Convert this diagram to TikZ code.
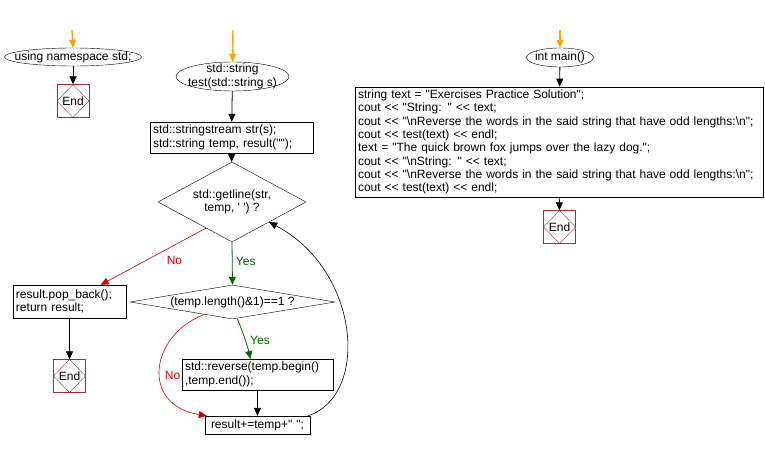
\documentclass[tikz,border=0pt]{standalone}
\usepackage{fontspec}
\setmainfont{Liberation Sans}[Ligatures=TeXOff]
\usetikzlibrary{shapes.geometric,arrows.meta,calc}
\definecolor{endred}{HTML}{A03030}
\definecolor{orangec}{HTML}{FFA500}
\definecolor{nored}{HTML}{CC0000}
\definecolor{yesgreen}{HTML}{006600}
\tikzset{
  every node/.style={font=\fontsize{12}{13.3}\selectfont},
  arr/.style={-{Triangle[length=8pt,width=7pt]}, line width=0.8pt},
  startarr/.style={arr, draw=orangec, line width=1.4pt},
  noarr/.style={arr, draw=nored, line width=0.6pt},
  yesarr/.style={arr, draw=yesgreen},
  ell/.style={draw, ellipse, inner sep=0pt},
  codebox/.style={draw, rectangle, inner sep=3pt, align=left},
  dia/.style={draw, diamond, inner sep=0pt},
  inlabel/.style={label={[align=center, inner sep=0pt]center:#1}},
  endbox/.style={draw=endred, rectangle, minimum width=32pt, minimum height=33pt, inner sep=0pt,
    path picture={\draw[endred] (path picture bounding box.north) -- (path picture bounding box.east) -- (path picture bounding box.south) -- (path picture bounding box.west) -- cycle;}},
  nolab/.style={text=nored},
  yeslab/.style={text=yesgreen},
}
\begin{document}
\begin{tikzpicture}[x=1pt,y=-1pt]
\useasboundingbox (0,0) rectangle (765,449);
% left
\coordinate (o1) at (72,30);
\node[ell, minimum width=137pt, minimum height=18pt, inlabel={using namespace std;}] (ns) at (73,57) {};
\node[endbox] (end1) at (73,101) {End};
\draw[startarr] (o1) -- (ns.north);
\draw[arr] (ns) -- (end1);
% middle
\coordinate (o2) at (233,30);
\node[ell, minimum width=113pt, minimum height=29pt, inlabel={std::string\\test(std::string s)}] (test) at (232.5,76.5) {};
\node[codebox, minimum width=163pt, minimum height=31pt, text width=157pt] (decl) at (231.5,137.5) {std::stringstream str(s);\\std::string temp, result("");};
\node[dia, minimum width=148pt, minimum height=80pt, aspect=1.85, inlabel={std::getline(str,\\temp, ' ') ?}] (d1) at (232,202) {};
\node[dia, minimum width=205pt, minimum height=34pt, aspect=6, inlabel={(temp.length()\&1)==1 ?}] (d2) at (232.5,302) {};
\node[codebox, minimum width=113pt, minimum height=33pt, text width=107pt] (pop) at (69.5,301.5) {result.pop\_back();\\return result;};
\node[endbox] (end2) at (69.5,376) {End};
\node[codebox, minimum width=151pt, minimum height=29pt, text width=145pt] (rev) at (257.5,374.5) {std::reverse(temp.begin()\\,temp.end());};
\node[codebox, minimum width=105pt, minimum height=18pt, text width=99pt, inner sep=3pt] (res) at (257.5,425) {\hspace{3pt}result+=temp+" ";};
\draw[startarr] (o2) -- (test.north);
\draw[arr] (test) -- (decl);
\draw[arr] (decl) -- (d1);
\draw[yesarr] (d1.south) -- node[yeslab, right, pos=0.45] {Yes} (d2.north);
\draw[noarr] ($(d1.south west)!0.3!(d1.south)$) -- node[nolab, below=7pt, pos=0.3] {No} ($(pop.north)!0.55!(pop.north east)$);
\draw[arr] (pop) -- (end2);
\draw[yesarr] ($(d2.south)+(5,0)$) .. controls (244,335) and (248,348) .. node[yeslab, right, pos=0.5, xshift=1pt] {Yes} ($(rev.north)+(-7,0)$);
\draw[arr] (rev) -- (res);
\draw[noarr] ($(d2.south west)!0.45!(d2.south)$) .. controls (150,335) and (140,405) .. node[nolab, pos=0.55, right, xshift=1pt] {No} ($(res.north west)+(2,0)$);
\draw[arr, line width=0.6pt] ($(res.north east)+(-2,0)$) .. controls (370,395) and (360,270) .. (d1.south east);
% right
\coordinate (o3) at (560,30);
\node[ell, minimum width=67pt, minimum height=19pt, inlabel={int main()}] (main) at (560,57.5) {};
\node[codebox, minimum width=408pt, minimum height=110pt, text width=402pt] (body) at (559,142) {string text = "Exercises Practice Solution";\\
cout << "String: " << text;\\
cout << "\textbackslash nReverse the words in the said string that have odd lengths:\textbackslash n";\\
cout << test(text) << endl;\\
text = "The quick brown fox jumps over the lazy dog.";\\
cout << "\textbackslash nString: " << text;\\
cout << "\textbackslash nReverse the words in the said string that have odd lengths:\textbackslash n";\\
cout << test(text) << endl;};
\node[endbox] (end3) at (559.5,227) {End};
\draw[startarr] (o3) -- (main.north);
\draw[arr] (main) -- (body);
\draw[arr] (body) -- (end3);
\end{tikzpicture}
\end{document}
